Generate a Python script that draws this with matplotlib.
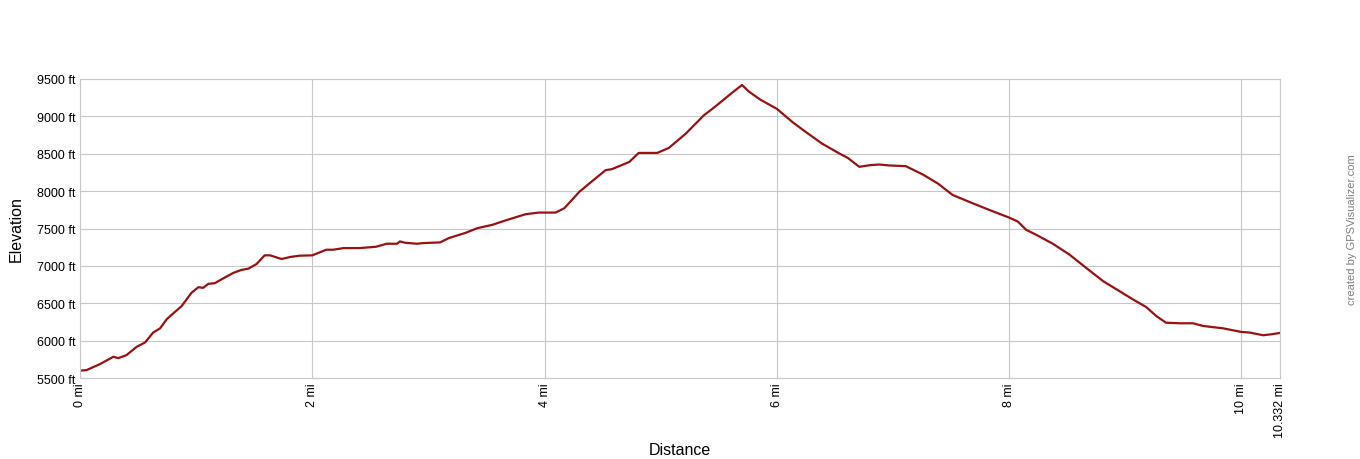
import matplotlib
matplotlib.use("Agg")
import matplotlib.pyplot as plt

# distance (mi) and elevation (ft)
dist_mi = [0.0, 0.057, 0.172, 0.287, 0.33, 0.40, 0.488, 0.56, 0.63, 0.69, 0.746, 0.80,
           0.875, 0.96, 1.02, 1.06, 1.105, 1.16, 1.23, 1.32, 1.39, 1.45, 1.52, 1.59,
           1.636, 1.736, 1.81, 1.89, 2.0, 2.05, 2.12, 2.18, 2.27, 2.41, 2.55, 2.64,
           2.73, 2.755, 2.80, 2.90, 2.955, 3.1, 3.175, 3.32, 3.42, 3.55, 3.66, 3.836,
           3.95, 4.095, 4.17, 4.30, 4.41, 4.526, 4.58, 4.73, 4.81, 4.97, 5.07, 5.215,
           5.37, 5.47, 5.62, 5.70, 5.76, 5.86, 6.0, 6.135, 6.25, 6.39, 6.54, 6.61,
           6.71, 6.80, 6.88, 6.97, 7.11, 7.256, 7.385, 7.514, 7.687, 7.83, 8.0, 8.075,
           8.147, 8.233, 8.376, 8.52, 8.664, 8.81, 8.95, 9.066, 9.18, 9.267, 9.35,
           9.47, 9.583, 9.67, 9.84, 10.0, 10.07, 10.187, 10.259, 10.332]
elev_ft = [5598, 5606, 5686, 5784, 5766, 5806, 5917, 5975, 6108, 6165, 6285, 6360,
           6462, 6640, 6715, 6706, 6760, 6768, 6830, 6906, 6946, 6963, 7025, 7141,
           7141, 7092, 7119, 7136, 7141, 7172, 7216, 7216, 7238, 7238, 7256, 7296,
           7296, 7327, 7309, 7296, 7305, 7314, 7371, 7442, 7504, 7549, 7606, 7691,
           7713, 7713, 7771, 7992, 8134, 8281, 8294, 8391, 8511, 8511, 8578, 8768,
           9012, 9132, 9323, 9420, 9331, 9221, 9101, 8923, 8790, 8635, 8502, 8445,
           8325, 8347, 8356, 8343, 8334, 8223, 8103, 7948, 7837, 7748, 7646, 7593,
           7482, 7416, 7296, 7150, 6972, 6795, 6662, 6551, 6449, 6329, 6240,
           6232, 6232, 6196, 6165, 6116, 6108, 6072, 6085, 6103]

x_ticks = [0, 2, 4, 6, 8, 10, 10.332]
x_labels = ["0 mi", "2 mi", "4 mi", "6 mi", "8 mi", "10 mi", "10.332 mi"]
y_ticks = [5500, 6000, 6500, 7000, 7500, 8000, 8500, 9000, 9500]
y_labels = [f"{v} ft" for v in y_ticks]

plt.rcParams['font.family'] = ['Liberation Sans', 'DejaVu Sans']

W, H = 1360, 460
fig = plt.figure(figsize=(W / 100, H / 100), dpi=100)
ax = fig.add_axes([80 / W, 1 - 379 / H, 1200 / W, 299 / H])

ax.plot(dist_mi, elev_ft, color='#9b1010', linewidth=1.6, solid_joinstyle='round')

ax.set_xlim(0, 10.332)
ax.set_ylim(5500, 9500)
ax.set_xticks(x_ticks)
ax.set_xticklabels(x_labels, rotation=90, fontsize=9, va='top', ha='center')
ax.set_yticks(y_ticks)
ax.set_yticklabels(y_labels, fontsize=9)
ax.tick_params(length=0, pad=3)
ax.grid(True, color='#c8c8c8', linewidth=0.8)
for s in ax.spines.values():
    s.set_color('#c8c8c8')
    s.set_linewidth(0.8)

ax.set_ylabel('Elevation', fontsize=11.5, labelpad=10)
fig.text(680 / W, 1 - 451 / H, 'Distance', ha='center', va='center', fontsize=11.5)

fig.text(1352 / W, 0.5, 'created by GPSVisualizer.com', rotation=90,
         ha='center', va='center', fontsize=8, color='#808080')

fig.savefig('out.png', dpi=100)
